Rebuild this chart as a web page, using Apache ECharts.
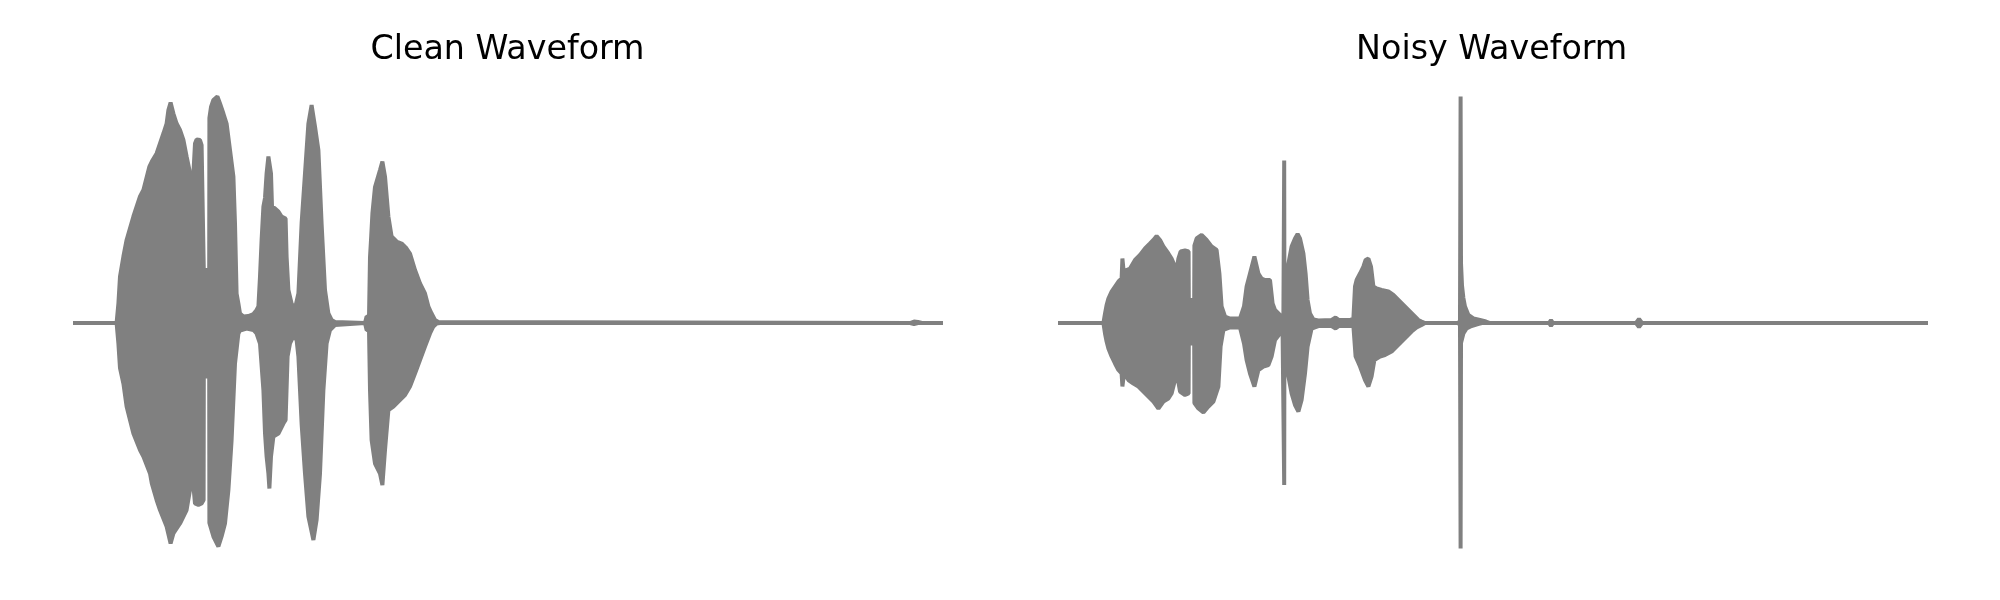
<!DOCTYPE html>
<html>
<head>
<meta charset="utf-8">
<script src="https://cdn.jsdelivr.net/npm/echarts@6/dist/echarts.min.js"></script>
<style>
html,body{margin:0;padding:0;background:#fff;}
#chart{width:2000px;height:600px;}
</style>
</head>
<body>
<div id="chart"></div>
<script>
// Panel titles
const titles = ["Clean Waveform", "Noisy Waveform"];

// Time axis extent (seconds)
const duration = 4.33;

// Clean waveform envelope: [time (s), amplitude]
const cleanUpper = [
  [0,0],[0.208,0],[0.217,0.039],[0.225,0.093],[0.242,0.133],[0.258,0.166],[0.292,0.213],
  [0.325,0.253],[0.342,0.266],[0.372,0.313],[0.384,0.323],[0.408,0.339],[0.425,0.359],
  [0.442,0.379],[0.458,0.399],[0.467,0.426],[0.478,0.441],[0.492,0.419],[0.508,0.399],
  [0.525,0.386],[0.542,0.366],[0.558,0.333],[0.572,0.306],[0.582,0.266],[0.592,0.299],
  [0.600,0.359],[0.608,0.367],[0.625,0.366],[0.633,0.356],[0.643,0.353],[0.644,0.106],
  [0.671,0.106],[0.672,0.410],[0.680,0.432],[0.692,0.446],[0.712,0.453],[0.725,0.439],
  [0.742,0.419],[0.758,0.399],[0.775,0.346],[0.792,0.293],[0.800,0.199],[0.808,0.059],
  [0.817,0.039],[0.825,0.019],[0.842,0.013],[0.867,0.014],[0.892,0.018],[0.908,0.026],
  [0.917,0.033],[0.925,0.093],[0.933,0.166],[0.942,0.233],[0.950,0.250],[0.958,0.299],
  [0.967,0.333],[0.972,0.336],[0.980,0.299],[0.985,0.233],[1.000,0.229],[1.017,0.223],
  [1.033,0.213],[1.042,0.216],[1.053,0.209],[1.058,0.133],[1.067,0.066],[1.083,0.039],
  [1.100,0.029],[1.117,0.059],[1.133,0.199],[1.150,0.299],[1.167,0.399],[1.183,0.436],
  [1.200,0.393],[1.217,0.346],[1.233,0.199],[1.250,0.066],[1.267,0.019],[1.283,0.006],
  [1.300,0.002],[1.450,0],[1.458,0.013],[1.470,0.012],[1.475,0.132],[1.480,0.166],
  [1.487,0.219],[1.500,0.272],[1.525,0.306],[1.537,0.323],[1.550,0.293],[1.567,0.213],
  [1.583,0.173],[1.608,0.163],[1.633,0.159],[1.658,0.149],[1.675,0.139],[1.700,0.106],
  [1.725,0.079],[1.750,0.059],[1.767,0.033],[1.783,0.019],[1.800,0.006],[1.817,0.002],
  [1.825,0],[4.175,0],[4.195,0.003],[4.215,0.002],[4.235,0],[4.33,0]
];
const cleanLower = [
  [0,0],[0.208,0],[0.217,-0.041],[0.225,-0.090],[0.242,-0.121],[0.258,-0.167],[0.292,-0.221],
  [0.325,-0.254],[0.342,-0.267],[0.375,-0.301],[0.384,-0.321],[0.408,-0.354],[0.425,-0.374],
  [0.458,-0.407],[0.478,-0.441],[0.492,-0.421],[0.525,-0.401],[0.558,-0.374],[0.575,-0.334],
  [0.588,-0.307],[0.600,-0.361],[0.617,-0.364],[0.633,-0.361],[0.643,-0.354],[0.644,-0.107],
  [0.671,-0.107],[0.672,-0.400],[0.692,-0.427],[0.717,-0.447],[0.733,-0.427],[0.750,-0.401],
  [0.767,-0.334],[0.783,-0.234],[0.800,-0.081],[0.817,-0.021],[0.825,-0.015],[0.858,-0.011],
  [0.892,-0.014],[0.908,-0.021],[0.925,-0.041],[0.942,-0.134],[0.950,-0.220],[0.958,-0.267],
  [0.967,-0.301],[0.972,-0.331],[0.980,-0.267],[0.992,-0.227],[1.017,-0.221],[1.042,-0.201],
  [1.053,-0.194],[1.063,-0.067],[1.075,-0.041],[1.092,-0.027],[1.108,-0.034],[1.117,-0.067],
  [1.133,-0.201],[1.150,-0.301],[1.167,-0.387],[1.192,-0.434],[1.208,-0.394],[1.225,-0.301],
  [1.242,-0.134],[1.258,-0.041],[1.275,-0.014],[1.300,-0.004],[1.450,0],[1.458,-0.014],
  [1.470,-0.014],[1.475,-0.134],[1.483,-0.234],[1.500,-0.281],[1.525,-0.301],[1.537,-0.324],
  [1.550,-0.254],[1.567,-0.174],[1.592,-0.167],[1.617,-0.157],[1.650,-0.144],[1.675,-0.127],
  [1.700,-0.101],[1.725,-0.074],[1.750,-0.047],[1.775,-0.021],[1.792,-0.007],[1.808,-0.001],
  [1.825,0],[4.175,0],[4.195,-0.002],[4.215,0],[4.33,0]
];

// Noisy waveform envelope: [time (s), amplitude]
const noisyUpper = [
  [0,0],[0.217,0],[0.225,0.019],[0.233,0.036],[0.242,0.049],[0.258,0.063],[0.275,0.073],
  [0.292,0.083],[0.308,0.089],[0.312,0.129],[0.317,0.129],[0.320,0.096],[0.333,0.106],
  [0.350,0.109],[0.375,0.126],[0.400,0.136],[0.425,0.149],[0.450,0.159],[0.467,0.166],
  [0.483,0.174],[0.500,0.166],[0.517,0.153],[0.542,0.139],[0.558,0.129],[0.575,0.113],
  [0.583,0.106],[0.592,0.129],[0.603,0.143],[0.625,0.145],[0.643,0.143],[0.644,0.046],
  [0.671,0.046],[0.672,0.155],[0.683,0.169],[0.708,0.176],[0.733,0.166],[0.758,0.153],
  [0.783,0.146],[0.797,0.099],[0.808,0.033],[0.825,0.013],[0.850,0.009],[0.900,0.009],
  [0.920,0.033],[0.933,0.073],[0.950,0.099],[0.972,0.133],[0.992,0.099],[1.008,0.089],
  [1.025,0.086],[1.050,0.086],[1.063,0.039],[1.075,0.026],[1.100,0.016],[1.117,0.013],
  [1.120,0.013],[1.121,0.325],[1.122,0.060],[1.125,0.073],[1.142,0.119],[1.158,0.153],
  [1.175,0.169],[1.188,0.178],[1.200,0.169],[1.217,0.139],[1.228,0.099],[1.238,0.046],
  [1.250,0.019],[1.267,0.007],[1.292,0.005],[1.358,0.006],[1.378,0.011],[1.395,0.006],
  [1.450,0.006],[1.467,0.009],[1.475,0.073],[1.483,0.086],[1.500,0.099],[1.517,0.113],
  [1.528,0.126],[1.542,0.129],[1.555,0.113],[1.567,0.073],[1.583,0.069],[1.608,0.066],
  [1.642,0.063],[1.667,0.056],[1.692,0.046],[1.717,0.036],[1.742,0.026],[1.767,0.016],
  [1.792,0.006],[1.808,0.003],[1.825,0],[1.995,0],[2.000,0.006],[2.002,0.006],[2.003,0.453],
  [2.005,0.120],[2.010,0.075],[2.017,0.050],[2.025,0.033],[2.042,0.016],[2.067,0.009],
  [2.100,0.006],[2.130,0.003],[2.150,0],[2.445,0],[2.455,0.006],[2.465,0],[2.880,0],
  [2.895,0.008],[2.910,0],[4.33,0]
];
const noisyLower = [
  [0,0],[0.217,0],[0.225,-0.021],[0.233,-0.037],[0.242,-0.051],[0.258,-0.067],[0.275,-0.081],
  [0.292,-0.094],[0.308,-0.101],[0.312,-0.127],[0.317,-0.127],[0.320,-0.101],[0.342,-0.114],
  [0.367,-0.121],[0.392,-0.127],[0.417,-0.137],[0.442,-0.147],[0.467,-0.157],[0.492,-0.171],
  [0.517,-0.157],[0.542,-0.151],[0.558,-0.141],[0.575,-0.114],[0.587,-0.107],[0.600,-0.137],
  [0.625,-0.144],[0.643,-0.141],[0.644,-0.041],[0.671,-0.041],[0.672,-0.160],[0.692,-0.171],
  [0.717,-0.179],[0.742,-0.167],[0.767,-0.157],[0.792,-0.127],[0.803,-0.047],[0.817,-0.014],
  [0.850,-0.009],[0.900,-0.009],[0.920,-0.041],[0.933,-0.074],[0.950,-0.101],[0.972,-0.127],
  [0.992,-0.094],[1.017,-0.087],[1.042,-0.084],[1.058,-0.067],[1.075,-0.034],[1.100,-0.021],
  [1.113,-0.021],[1.120,-0.020],[1.121,-0.324],[1.122,-0.050],[1.125,-0.061],[1.142,-0.107],
  [1.158,-0.141],[1.175,-0.164],[1.192,-0.177],[1.208,-0.154],[1.225,-0.101],[1.238,-0.047],
  [1.258,-0.011],[1.292,-0.006],[1.358,-0.006],[1.378,-0.011],[1.395,-0.006],[1.467,-0.006],
  [1.478,-0.067],[1.500,-0.087],[1.525,-0.114],[1.542,-0.127],[1.558,-0.107],[1.572,-0.074],
  [1.600,-0.067],[1.625,-0.064],[1.658,-0.057],[1.683,-0.047],[1.708,-0.037],[1.733,-0.027],
  [1.758,-0.017],[1.783,-0.009],[1.808,-0.004],[1.825,0],[1.995,0],[2.000,-0.006],[2.002,-0.006],
  [2.003,-0.451],[2.005,-0.040],[2.017,-0.021],[2.033,-0.011],[2.058,-0.006],[2.090,-0.002],
  [2.110,0],[2.445,0],[2.455,-0.006],[2.465,0],[2.880,0],[2.895,-0.008],[2.910,0],[4.33,0]
];

const GRAY = '#808080';
const chart = echarts.init(document.getElementById('chart'), null, {renderer: 'canvas'});

function waveSeries(data, idx) {
  return {
    type: 'line',
    data: data,
    xAxisIndex: idx,
    yAxisIndex: idx,
    showSymbol: false,
    symbol: 'none',
    clip: false,
    silent: true,
    lineStyle: {color: GRAY, width: 4, cap: 'square', join: 'bevel'},
    areaStyle: {color: GRAY, opacity: 1, origin: 0},
    animation: false
  };
}

const option = {
  backgroundColor: '#ffffff',
  animation: false,
  graphic: [
    {type: 'text', x: 507.5, y: 50, style: {text: titles[0], x: 0, y: 0, fill: '#000', font: '33.3px "DejaVu Sans"', textAlign: 'center', textVerticalAlign: 'middle'}},
    {type: 'text', x: 1491.7, y: 50, style: {text: titles[1], x: 0, y: 0, fill: '#000', font: '33.3px "DejaVu Sans"', textAlign: 'center', textVerticalAlign: 'middle'}}
  ],
  grid: [
    {left: 75, top: 93, width: 866, height: 460},
    {left: 1060, top: 93, width: 866, height: 460}
  ],
  xAxis: [
    {type: 'value', gridIndex: 0, min: 0, max: duration, show: false},
    {type: 'value', gridIndex: 1, min: 0, max: duration, show: false}
  ],
  yAxis: [
    {type: 'value', gridIndex: 0, min: -0.46, max: 0.46, show: false},
    {type: 'value', gridIndex: 1, min: -0.46, max: 0.46, show: false}
  ],
  series: [
    waveSeries(cleanUpper, 0),
    waveSeries(cleanLower, 0),
    waveSeries(noisyUpper, 1),
    waveSeries(noisyLower, 1)
  ]
};
chart.setOption(option);
</script>
</body>
</html>
